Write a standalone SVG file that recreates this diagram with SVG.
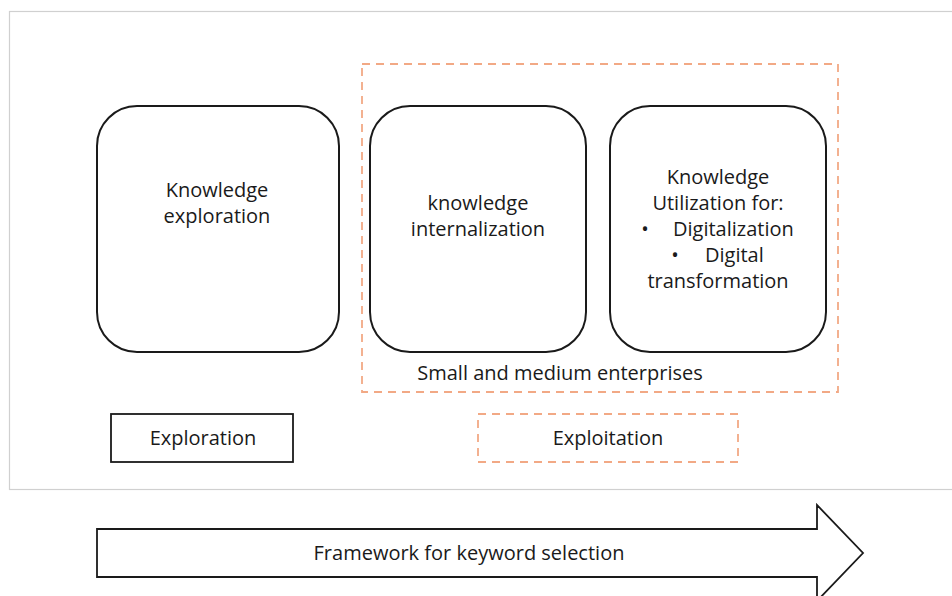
<svg xmlns="http://www.w3.org/2000/svg" width="952" height="596" viewBox="0 0 952 596">
  <style>
    text { font-family: "Open Sans", "Liberation Sans", sans-serif; font-size: 20px; fill: #1a1a1a; text-anchor: middle; }
    .start { text-anchor: start; }
    .node { fill: #ffffff; stroke: #1a1a1a; stroke-width: 2; }
    .dash { fill: none; stroke: #f2a985; stroke-width: 1.8; stroke-dasharray: 8 6; }
    .frame { fill: #ffffff; stroke: #d0d0d0; stroke-width: 1.2; }
  </style>
  <rect x="0" y="0" width="952" height="596" fill="#ffffff"/>
  <rect class="frame" x="9.5" y="11.5" width="950" height="478"/>

  <g id="sme-group">
    <rect class="dash" x="362" y="64" width="476" height="328"/>
    <text x="560" y="380">Small and medium enterprises</text>
  </g>

  <g id="knowledge-exploration">
    <rect class="node" x="97" y="106" width="242" height="246" rx="40"/>
    <text x="217" y="197">Knowledge</text>
    <text x="217" y="223">exploration</text>
  </g>

  <g id="knowledge-internalization">
    <rect class="node" x="370" y="106" width="216" height="246" rx="40"/>
    <text x="478" y="210">knowledge</text>
    <text x="478" y="236">internalization</text>
  </g>

  <g id="knowledge-utilization">
    <rect class="node" x="610" y="106" width="216" height="246" rx="40"/>
    <text x="718" y="184">Knowledge</text>
    <text x="718" y="210">Utilization for:</text>
    <text x="645" y="236">•</text>
    <text class="start" x="673" y="236">Digitalization</text>
    <text x="675" y="262">•</text>
    <text class="start" x="705" y="262">Digital</text>
    <text x="718" y="288">transformation</text>
  </g>

  <g id="exploration">
    <rect x="111" y="414" width="182" height="48" fill="#ffffff" stroke="#1a1a1a" stroke-width="1.8"/>
    <text x="203" y="445">Exploration</text>
  </g>

  <g id="exploitation">
    <rect class="dash" x="478" y="414" width="260" height="48"/>
    <text x="608" y="445">Exploitation</text>
  </g>

  <g id="connectors">
    <path d="M97,529 H817 V505 L863,553 L817,601 V577 H97 Z" fill="#ffffff" stroke="#1a1a1a" stroke-width="1.8"/>
    <text x="469" y="560">Framework for keyword selection</text>
  </g>
</svg>
